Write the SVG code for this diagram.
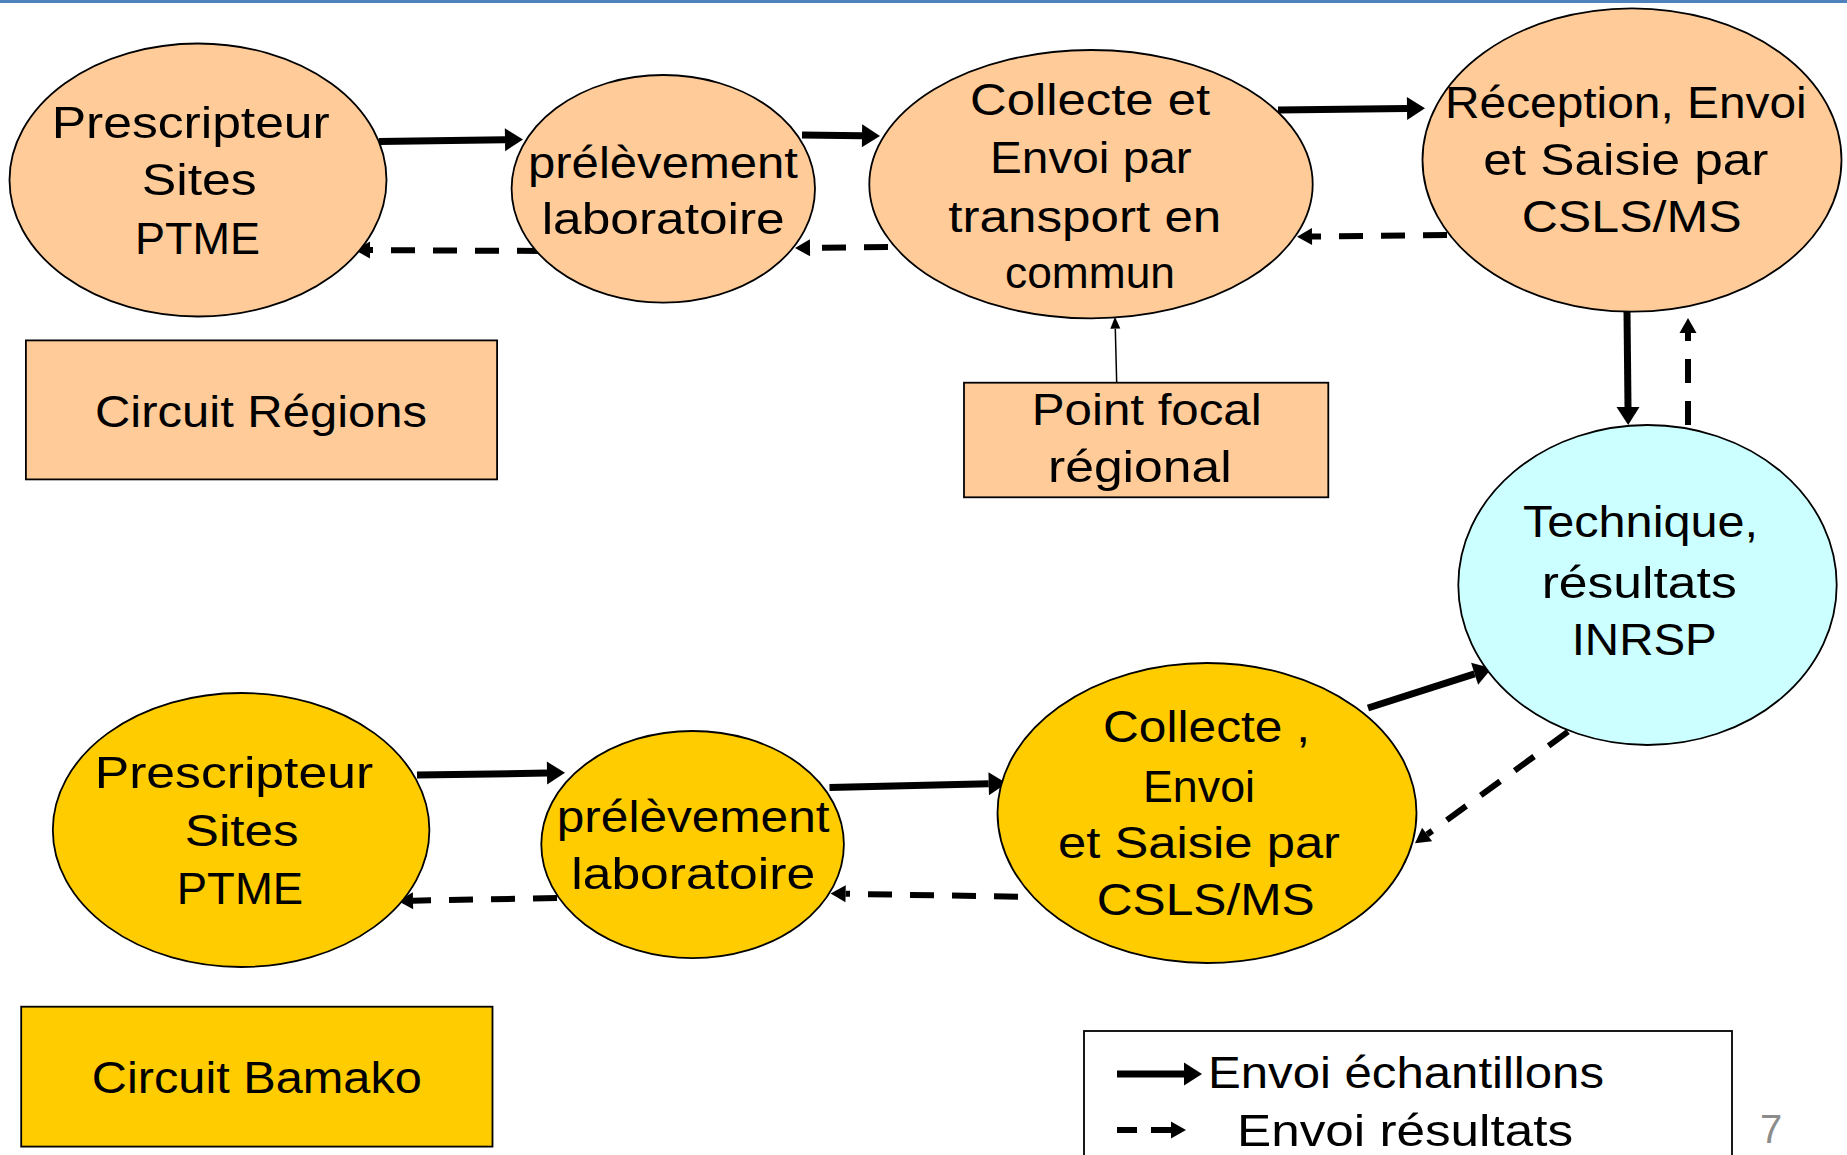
<svg xmlns="http://www.w3.org/2000/svg" width="1847" height="1155" viewBox="0 0 1847 1155">
<style>
.peach{fill:#FFCC99;stroke:#000;stroke-width:1.8}
.yellow{fill:#FFCC00;stroke:#000;stroke-width:1.8}
.cyan{fill:#CCFFFF;stroke:#000;stroke-width:1.8}
.t{font-family:"Liberation Sans","DejaVu Sans",Arial,sans-serif;font-size:45px;fill:#000}
.solid{stroke:#000;stroke-width:7;fill:none;marker-end:url(#ah)}
.dash{stroke:#000;stroke-width:6;fill:none;stroke-dasharray:24 18;marker-end:url(#ahd)}
.thin{stroke:#000;stroke-width:1.5;fill:none;marker-end:url(#aht)}
</style>
<defs>
<marker id="ah" markerUnits="userSpaceOnUse" markerWidth="18" markerHeight="23" refX="0" refY="11.5" orient="auto" overflow="visible"><path d="M0,0 L18,11.5 L0,23 Z" fill="#000"/></marker>
<marker id="ahd" markerUnits="userSpaceOnUse" markerWidth="15" markerHeight="17" refX="0" refY="8.5" orient="auto" overflow="visible"><path d="M0,0 L15,8.5 L0,17 Z" fill="#000"/></marker>
<marker id="aht" markerUnits="userSpaceOnUse" markerWidth="12" markerHeight="10" refX="0" refY="5" orient="auto" overflow="visible"><path d="M0,0 L12,5 L0,10 Z" fill="#000"/></marker>
</defs>
<rect x="0" y="0" width="1847" height="3" fill="#4F81BD"/>

<g id="connectors">
<path class="solid" d="M379,141.5 L505,139.7"/>
<path class="solid" d="M802,135 L862,135.8"/>
<path class="solid" d="M1278,110 L1407,108.5"/>
<path class="solid" d="M1627,312 L1628,407"/>
<path class="solid" d="M417,775 L547,773.1"/>
<path class="solid" d="M829.5,787.4 L988.7,783.7"/>
<path class="solid" d="M1368,708 L1474.6,673.8"/>
<path class="dash" d="M541,251 L370,250.1"/>
<path class="dash" d="M888,247 L810,247.8"/>
<path class="dash" d="M1447,235 L1312,236.5"/>
<path class="dash" d="M1688,425 L1688,333"/>
<path class="dash" d="M557,898 L413,900.7"/>
<path class="dash" d="M1018,896.7 L845.6,893.8"/>
<path class="dash" d="M1568,731.7 L1427.1,834.5"/>
<path class="thin" d="M1116.7,382.7 L1115.3,328.7"/>
</g>

<g id="n-prescripteur-regions">
<ellipse class="peach" cx="198" cy="180" rx="188.5" ry="136.5"/>
<text class="t" x="51.7" y="138" textLength="278" lengthAdjust="spacingAndGlyphs">Prescripteur</text>
<text class="t" x="141.7" y="195" textLength="115" lengthAdjust="spacingAndGlyphs">Sites</text>
<text class="t" x="135" y="254" textLength="125" lengthAdjust="spacingAndGlyphs">PTME</text>
</g>
<g id="n-prelevement-regions">
<ellipse class="peach" cx="663.3" cy="188.8" rx="151.7" ry="113.8"/>
<text class="t" x="528" y="178.3" textLength="270" lengthAdjust="spacingAndGlyphs">prélèvement</text>
<text class="t" x="541.7" y="234" textLength="243" lengthAdjust="spacingAndGlyphs">laboratoire</text>
</g>
<g id="n-collecte-regions">
<ellipse class="peach" cx="1091" cy="184.2" rx="221.7" ry="134.2"/>
<text class="t" x="970" y="115" textLength="240" lengthAdjust="spacingAndGlyphs">Collecte et</text>
<text class="t" x="990" y="173.3" textLength="201.7" lengthAdjust="spacingAndGlyphs">Envoi par</text>
<text class="t" x="948.3" y="231.7" textLength="273" lengthAdjust="spacingAndGlyphs">transport en</text>
<text class="t" x="1005" y="288.3" textLength="170" lengthAdjust="spacingAndGlyphs">commun</text>
</g>
<g id="n-reception">
<ellipse class="peach" cx="1632" cy="160" rx="209.5" ry="151.7"/>
<text class="t" x="1445" y="118.3" textLength="361.7" lengthAdjust="spacingAndGlyphs">Réception, Envoi</text>
<text class="t" x="1483.3" y="175" textLength="285" lengthAdjust="spacingAndGlyphs">et Saisie par</text>
<text class="t" x="1521.7" y="231.7" textLength="220" lengthAdjust="spacingAndGlyphs">CSLS/MS</text>
</g>
<g id="n-technique">
<ellipse class="cyan" cx="1647.5" cy="585" rx="189.2" ry="160"/>
<text class="t" x="1523" y="537" textLength="235" lengthAdjust="spacingAndGlyphs">Technique,</text>
<text class="t" x="1541.7" y="598.3" textLength="195" lengthAdjust="spacingAndGlyphs">résultats</text>
<text class="t" x="1571.7" y="655" textLength="145" lengthAdjust="spacingAndGlyphs">INRSP</text>
</g>
<g id="n-circuit-regions">
<rect class="peach" x="25.9" y="340.4" width="471.2" height="139"/>
<text class="t" x="95" y="427" textLength="332" lengthAdjust="spacingAndGlyphs">Circuit Régions</text>
</g>
<g id="n-point-focal">
<rect class="peach" x="964" y="382.7" width="364.3" height="114.6"/>
<text class="t" x="1031.7" y="425" textLength="230" lengthAdjust="spacingAndGlyphs">Point focal</text>
<text class="t" x="1048" y="481.7" textLength="183.7" lengthAdjust="spacingAndGlyphs">régional</text>
</g>

<g id="n-prescripteur-bamako">
<ellipse class="yellow" cx="241.1" cy="830" rx="188.3" ry="137"/>
<text class="t" x="94.7" y="788.2" textLength="278.4" lengthAdjust="spacingAndGlyphs">Prescripteur</text>
<text class="t" x="184.8" y="845.9" textLength="113.7" lengthAdjust="spacingAndGlyphs">Sites</text>
<text class="t" x="176.8" y="904.3" textLength="126.3" lengthAdjust="spacingAndGlyphs">PTME</text>
</g>
<g id="n-prelevement-bamako">
<ellipse class="yellow" cx="692.6" cy="844.6" rx="151.3" ry="113.6"/>
<text class="t" x="556.8" y="832" textLength="272.7" lengthAdjust="spacingAndGlyphs">prélèvement</text>
<text class="t" x="571.2" y="889.3" textLength="244" lengthAdjust="spacingAndGlyphs">laboratoire</text>
</g>
<g id="n-collecte-bamako">
<ellipse class="yellow" cx="1207" cy="813" rx="209.5" ry="150"/>
<text class="t" x="1103" y="741.7" textLength="207" lengthAdjust="spacingAndGlyphs">Collecte ,</text>
<text class="t" x="1143" y="801.7" textLength="112" lengthAdjust="spacingAndGlyphs">Envoi</text>
<text class="t" x="1058" y="858.3" textLength="282" lengthAdjust="spacingAndGlyphs">et Saisie par</text>
<text class="t" x="1096.7" y="915" textLength="218" lengthAdjust="spacingAndGlyphs">CSLS/MS</text>
</g>
<g id="n-circuit-bamako">
<rect class="yellow" x="21.2" y="1006.7" width="471.3" height="139.9"/>
<text class="t" x="91.8" y="1093" textLength="330" lengthAdjust="spacingAndGlyphs">Circuit Bamako</text>
</g>

<g id="legend">
<rect x="1084" y="1031" width="648" height="140" fill="#fff" stroke="#000" stroke-width="1.8"/>
<path class="solid" d="M1117,1074 L1184,1074"/>
<path d="M1117,1130 L1171,1130" stroke="#000" stroke-width="6" stroke-dasharray="20 14" fill="none" marker-end="url(#ahd)"/>
<text class="t" x="1208" y="1088" textLength="396" lengthAdjust="spacingAndGlyphs">Envoi échantillons</text>
<text class="t" x="1237" y="1146" textLength="336" lengthAdjust="spacingAndGlyphs">Envoi résultats</text>
</g>
<text x="1760" y="1143" font-family="Liberation Sans, Arial, sans-serif" font-size="40" fill="#8C8C8C">7</text>
</svg>
